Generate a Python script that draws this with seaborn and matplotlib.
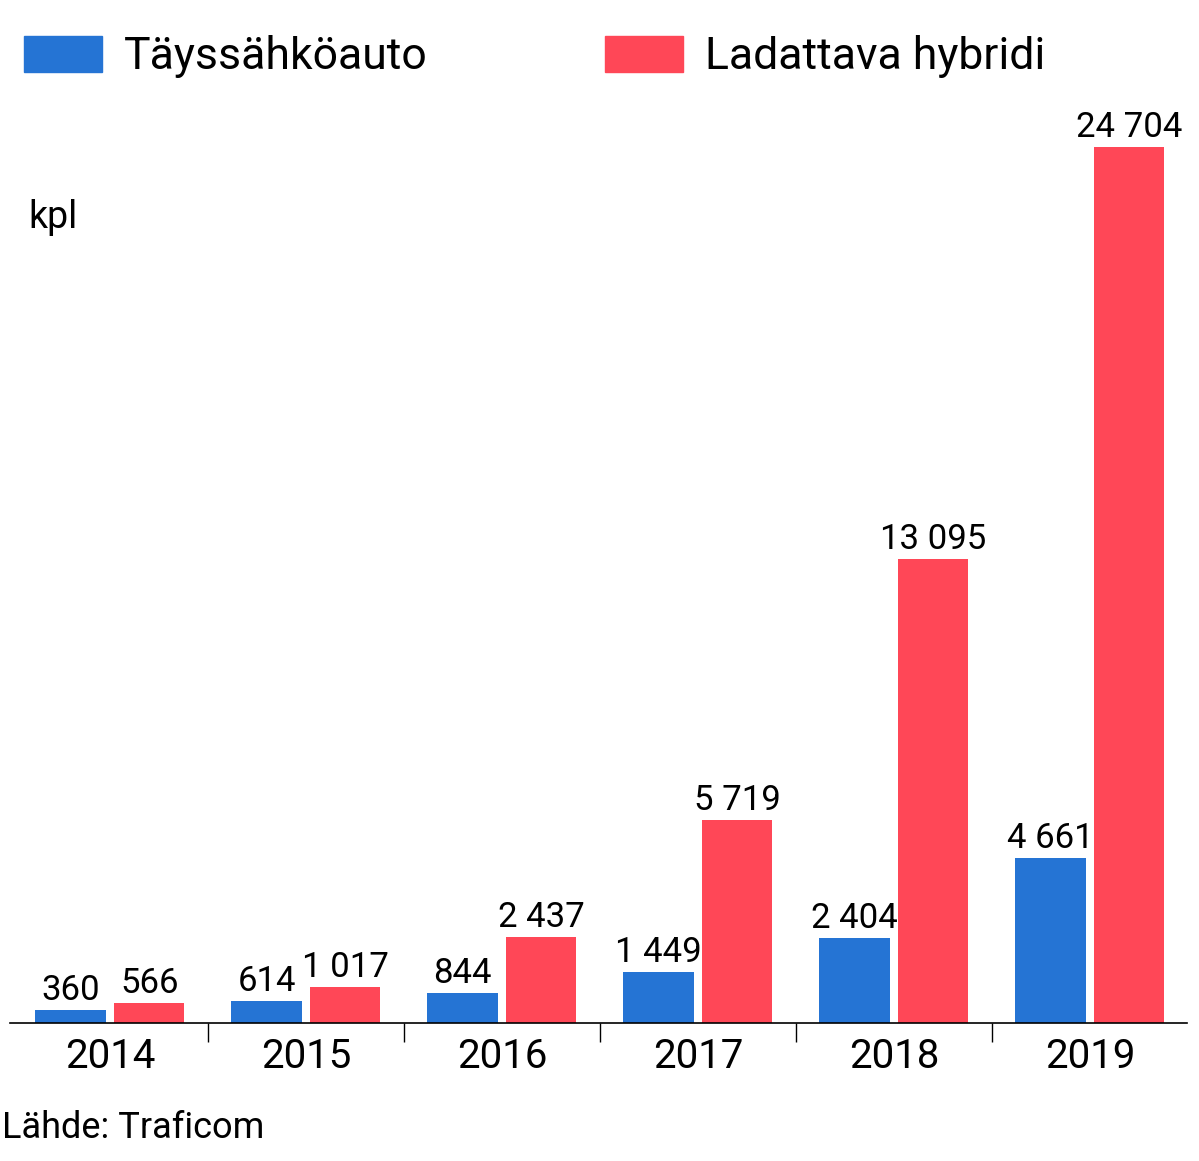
import matplotlib
matplotlib.use("Agg")
import matplotlib.pyplot as plt
import seaborn as sns
import pandas as pd
from matplotlib.patches import Patch

years = ["2014", "2015", "2016", "2017", "2018", "2019"]
series = ["Täyssähköauto", "Ladattava hybridi"]
bev = [360, 614, 844, 1449, 2404, 4661]
phev = [566, 1017, 2437, 5719, 13095, 24704]
colors = ["#2574D4", "#FF4757"]

df = pd.DataFrame({
    "year": years * 2,
    "type": [series[0]] * 6 + [series[1]] * 6,
    "value": bev + phev,
})

plt.rcParams["font.family"] = "Roboto"
fig = plt.figure(figsize=(11.99, 11.61), dpi=100)
ax = fig.add_axes([10/1199, 1 - 1023/1161, (1187-10)/1199, (1023-101)/1161])
sns.barplot(data=df, x="year", y="value", hue="type", palette=colors,
            width=0.8, gap=0.1, ax=ax, legend=False, saturation=1)
ax.set_ylim(0, 26000)
ax.set_xlim(-0.51, 5.495)
for c in ax.containers:
    labels = [f"{int(v):,}".replace(",", " ") for v in c.datavalues]
    ax.bar_label(c, labels=labels, fontsize=25, padding=2)
for s in ["top", "right", "left"]:
    ax.spines[s].set_visible(False)
ax.spines["bottom"].set_linewidth(1.2)
ax.set_yticks([])
ax.set_xlabel(""); ax.set_ylabel("")
ax.tick_params(axis="x", which="major", length=0, labelsize=29, pad=10)
ax.set_xticks([0.5, 1.5, 2.5, 3.5, 4.5], minor=True)
ax.tick_params(axis="x", which="minor", length=14, width=1, direction="out")

handles = [Patch(color=colors[0]), Patch(color=colors[1])]
fig.legend(handles, series, loc="upper left", bbox_to_anchor=(0.005, 0.985),
           ncol=2, frameon=False, fontsize=32, handlelength=1.75, handleheight=0.85,
           handletextpad=0.5, columnspacing=4.0, borderaxespad=0)
fig.text(28/1199, 1 - 218/1161, "kpl", fontsize=27, va="center", ha="left")
fig.text(2/1199, 1 - 1128/1161, "Lähde: Traficom", fontsize=26, va="center", ha="left")
fig.savefig("out.png", dpi=100)
